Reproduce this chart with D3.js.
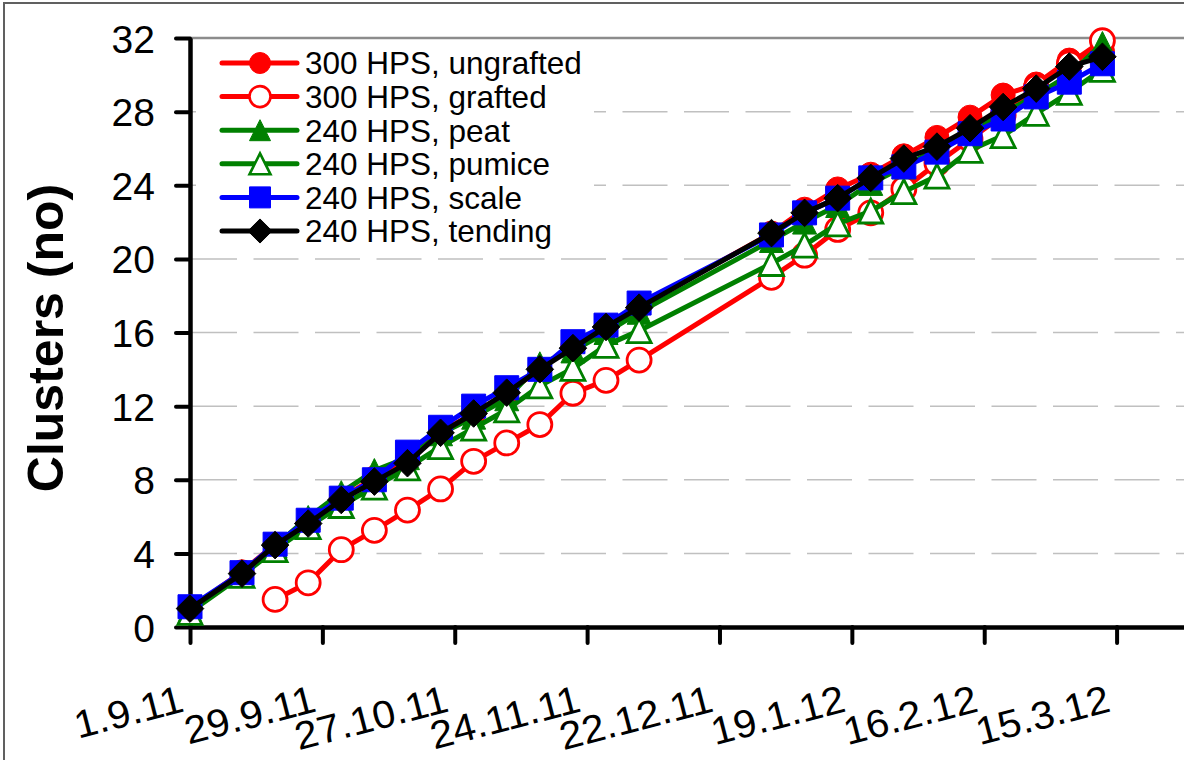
<!DOCTYPE html>
<html>
<head>
<meta charset="utf-8">
<script src="https://cdn.jsdelivr.net/npm/d3@7"></script>
<style>
  html, body { margin: 0; padding: 0; background: #fff; }
  svg { display: block; }
  text { font-family: "Liberation Sans", Arial, sans-serif; fill: #000; }
</style>
</head>
<body>
<svg id="chart" width="1184" height="760"></svg>
<script>
// ---- data ----
const dates = ["2011-09-01","2011-09-12","2011-09-19","2011-09-26","2011-10-03","2011-10-10","2011-10-17",
  "2011-10-24","2011-10-31","2011-11-07","2011-11-14","2011-11-21","2011-11-28","2011-12-05",
  "2012-01-02","2012-01-09","2012-01-16","2012-01-23","2012-01-30","2012-02-06","2012-02-13",
  "2012-02-20","2012-02-27","2012-03-05","2012-03-12"];
const seriesNames = ["300 HPS, ungrafted","300 HPS, grafted","240 HPS, peat","240 HPS, pumice","240 HPS, scale","240 HPS, tending"];
const ungrafted = [1.0,3.0,4.5,5.7,7.0,8.1,9.2,10.6,11.6,12.7,14.0,15.3,16.3,17.4,21.4,22.7,23.8,24.6,25.6,26.6,27.7,28.9,29.5,30.8,31.3];
const grafted   = [null,null,1.5,2.4,4.2,5.25,6.35,7.5,9.0,10.0,11.0,12.7,13.4,14.5,19.0,20.2,21.6,22.5,23.8,25.2,26.5,27.8,29.3,30.6,31.85];
const peat      = [0.9,2.9,4.4,5.95,7.3,8.5,9.2,10.5,11.4,12.4,14.3,15.0,16.0,17.1,21.0,22.0,22.9,24.1,25.0,26.0,27.0,27.9,28.9,30.0,31.7];
const pumice    = [0.8,2.8,4.2,5.45,6.6,7.6,8.65,9.8,10.8,11.8,13.1,14.05,15.3,16.1,19.75,20.75,21.9,22.6,23.65,24.5,25.9,26.7,27.9,29.05,30.3];
const scaleS    = [1.1,2.95,4.5,5.8,7.0,8.0,9.5,10.85,12.0,13.0,14.0,15.5,16.4,17.6,21.3,22.5,23.3,24.4,25.0,25.8,26.8,27.6,28.8,29.6,30.6];
const tending   = [1.0,2.9,4.45,5.62,6.9,7.9,8.9,10.55,11.6,12.73,14.0,15.15,16.3,17.35,21.4,22.5,23.3,24.4,25.45,26.1,27.1,28.25,29.25,30.45,30.98];
const xTickLabels = ["1.9.11","29.9.11","27.10.11","24.11.11","22.12.11","19.1.12","16.2.12","15.3.12"];
const yTicks = [0,4,8,12,16,20,24,28,32];
const yTitle = "Clusters (no)";

// ---- styles ----
const seriesValues = [ungrafted, grafted, peat, pumice, scaleS, tending];
const colors = ["#ff0000","#ff0000","#008000","#008000","#0000ff","#000000"];
const shapes = ["circle","circle","triangle","triangle","square","diamond"];
const filled = [true,false,true,false,true,true];

const parseD = s => { const [y,m,d] = s.split("-").map(Number); return new Date(Date.UTC(y,m-1,d)); };
const parseLabel = s => { const [d,m,y] = s.split(".").map(Number); return new Date(Date.UTC(2000+y,m-1,d)); };
const xDates = dates.map(parseD);
const tickDates = xTickLabels.map(parseLabel);

const svg = d3.select("#chart");
const pxPerDay = 4.7275;
const x0 = 190;
const xEnd = new Date(Date.UTC(2012,3,12));
const x = d3.scaleUtc().domain([parseD("2011-09-01"), xEnd]).range([x0, x0 + 224*pxPerDay]);
const y = d3.scaleLinear().domain([0,32]).range([627,38]);

// outer frame
svg.append("rect").attr("x",4).attr("y",3).attr("width",1300).attr("height",900)
  .attr("fill","none").attr("stroke","#606060").attr("stroke-width",2);

// gridlines
svg.append("g").selectAll("line").data(yTicks.filter(v => v > 0 && v < 32)).join("line")
  .attr("x1", x0 + 2).attr("x2", 1300)
  .attr("y1", d => y(d)).attr("y2", d => y(d))
  .attr("stroke","#c0c0c0").attr("stroke-width",1.5).attr("stroke-dasharray","45 16.5");
svg.append("line").attr("x1", x0).attr("x2", 1300).attr("y1", y(32)).attr("y2", y(32))
  .attr("stroke","#8c8c8c").attr("stroke-width",2.5);

// axes
const yAxis = svg.append("g").attr("transform",`translate(${x0},0)`)
  .call(d3.axisLeft(y).tickValues(yTicks).tickSize(14).tickSizeOuter(0).tickPadding(21));
yAxis.select(".domain").attr("stroke","#000").attr("stroke-width",4.5);
yAxis.selectAll(".tick line").attr("stroke","#000").attr("stroke-width",4).attr("stroke-linecap","round");
yAxis.selectAll(".tick text").attr("font-size",39).attr("font-family","Liberation Sans, Arial, sans-serif").attr("dy","0.36em");

const xAxis = svg.append("g").attr("transform",`translate(0,${y(0)})`)
  .call(d3.axisBottom(x).tickValues(tickDates).tickSize(16).tickSizeOuter(0)
    .tickFormat((d,i) => xTickLabels[i]));
xAxis.select(".domain").attr("stroke","#000").attr("stroke-width",4.5);
xAxis.selectAll(".tick line").attr("stroke","#000").attr("stroke-width",4).attr("stroke-linecap","round");
xAxis.selectAll(".tick text").attr("font-size",39).attr("font-family","Liberation Sans, Arial, sans-serif")
  .attr("text-anchor","end").attr("x",-5).attr("y",84).attr("dy",0)
  .attr("transform","rotate(-14.5,-5,84)")
  .each(function() {
    const w = this.getComputedTextLength();
    d3.select(this).attr("textLength", w * 1.05).attr("lengthAdjust","spacingAndGlyphs");
  });

// y title
svg.append("text").attr("transform","translate(63,338) rotate(-90)")
  .attr("text-anchor","middle").attr("font-size",50).attr("font-weight","bold").text(yTitle);

// marker path
function markerPath(shape, s) {
  switch (shape) {
    case "circle": { const p = d3.path(); p.arc(0,0,s,0,2*Math.PI); p.closePath(); return p.toString(); }
    case "square": return `M${-s},${-s}H${s}V${s}H${-s}Z`;
    case "diamond": { const r = s*1.15; return `M0,${-r}L${r},0L0,${r}L${-r},0Z`; }
    case "triangle": return `M0,${-s}L${s},${s}L${-s},${s}Z`;
  }
}

const line = d3.line().defined(d => d.v != null).x(d => x(d.t)).y(d => y(d.v));

seriesValues.forEach((vals, i) => {
  const data = vals.map((v, j) => ({t: xDates[j], v}));
  const g = svg.append("g");
  g.append("path").datum(data).attr("d", line).attr("fill","none")
    .attr("stroke", colors[i]).attr("stroke-width",5).attr("stroke-linejoin","round");
  g.selectAll("path.m").data(data.filter(d => d.v != null)).join("path").attr("class","m")
    .attr("transform", d => `translate(${x(d.t)},${y(d.v)})`)
    .attr("d", markerPath(shapes[i], 12))
    .attr("fill", filled[i] ? colors[i] : "#fff")
    .attr("stroke", colors[i]).attr("stroke-width", filled[i] ? 1 : 2.8);
});

// legend
const leg = svg.append("g");
leg.append("rect").attr("x",196).attr("y",43).attr("width",398).attr("height",207).attr("fill","#fff");
seriesNames.forEach((name, i) => {
  const cy = 63 + i*33.6;
  leg.append("line").attr("x1",222).attr("x2",297).attr("y1",cy).attr("y2",cy)
    .attr("stroke",colors[i]).attr("stroke-width",5).attr("stroke-linecap","round");
  leg.append("path").attr("transform",`translate(260,${cy})`)
    .attr("d", markerPath(shapes[i], 10.5))
    .attr("fill", filled[i] ? colors[i] : "#fff")
    .attr("stroke", colors[i]).attr("stroke-width", filled[i] ? 1 : 2.6);
  leg.append("text").attr("x",305).attr("y",cy).attr("dy","0.36em").attr("font-size",31.5).text(name);
});
</script>
</body>
</html>
